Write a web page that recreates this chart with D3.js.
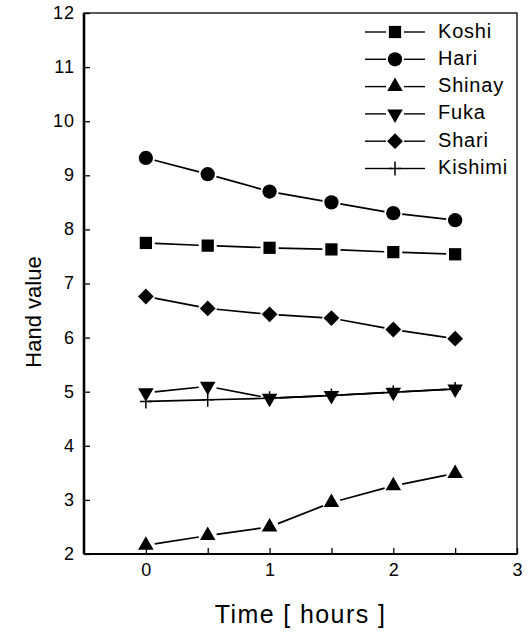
<!DOCTYPE html>
<html>
<head>
<meta charset="utf-8">
<script src="https://cdn.jsdelivr.net/npm/d3@7"></script>
<style>
  body { margin: 0; background: #fff; }
  svg { display: block; font-family: "Liberation Sans", Arial, sans-serif; }
</style>
</head>
<body>
<svg id="chart" width="528" height="632"></svg>
<script>
// data
var times = [0, 0.5, 1, 1.5, 2, 2.5];
var koshi   = [7.75, 7.70, 7.66, 7.63, 7.58, 7.54];
var hari    = [9.32, 9.02, 8.70, 8.50, 8.30, 8.17];
var shinay  = [2.16, 2.34, 2.50, 2.95, 3.26, 3.49];
var fuka    = [4.98, 5.10, 4.88, 4.93, 4.99, 5.05];
var shari   = [6.76, 6.54, 6.43, 6.36, 6.15, 5.98];
var kishimi = [4.82, 4.85, 4.88, 4.93, 4.99, 5.05];
var names = ["Koshi", "Hari", "Shinay", "Fuka", "Shari", "Kishimi"];
var yTicks = [2, 3, 4, 5, 6, 7, 8, 9, 10, 11, 12];
var xTicks = [0, 0.5, 1, 1.5, 2, 2.5, 3];

var series = [
  {name: names[0], vals: koshi,   shape: "square"},
  {name: names[1], vals: hari,    shape: "circle"},
  {name: names[2], vals: shinay,  shape: "up"},
  {name: names[3], vals: fuka,    shape: "down"},
  {name: names[4], vals: shari,   shape: "diamond"},
  {name: names[5], vals: kishimi, shape: "plus"}
];

var svg = d3.select("#chart");
var pLeft = 84, pRight = 517, pTop = 13, pBottom = 554;

var x = d3.scaleLinear().domain([-0.5, 3]).range([pLeft, pRight]);
var y = d3.scaleLinear().domain([2, 12]).range([pBottom, pTop]);

// axes, ticks pointing inward
svg.append("g")
  .attr("transform", "translate(" + pLeft + ",0)")
  .call(d3.axisLeft(y).tickValues(yTicks).tickSize(-6).tickPadding(9).tickFormat(d3.format("d")))
  .call(function(g) {
    g.select(".domain").remove();
    g.selectAll("line").attr("stroke-width", 1.3);
    g.selectAll("text").attr("font-size", 18).attr("letter-spacing", 1)
      .attr("dy", "0.3em").attr("fill", "#000");
  });

svg.append("g")
  .attr("transform", "translate(0," + pBottom + ")")
  .call(d3.axisBottom(x).tickValues(xTicks).tickSize(-6).tickPadding(9)
    .tickFormat(function(d) { return d % 1 === 0 ? d : ""; }))
  .call(function(g) {
    g.select(".domain").remove();
    g.selectAll("line").attr("stroke-width", 1.3);
    g.selectAll("text").attr("font-size", 18).attr("fill", "#000");
  });

// frame
svg.append("rect")
  .attr("x", pLeft).attr("y", pTop)
  .attr("width", pRight - pLeft).attr("height", pBottom - pTop)
  .attr("fill", "none").attr("stroke", "#000").attr("stroke-width", 1.3);
svg.append("line")
  .attr("x1", pLeft).attr("x2", pLeft).attr("y1", pTop).attr("y2", pBottom)
  .attr("stroke", "#000").attr("stroke-width", 2.6);
svg.append("line")
  .attr("x1", pLeft).attr("x2", pRight).attr("y1", pBottom).attr("y2", pBottom)
  .attr("stroke", "#000").attr("stroke-width", 1.8);

// axis titles
svg.append("text")
  .attr("x", (pLeft + pRight) / 2).attr("y", 623)
  .attr("text-anchor", "middle").attr("font-size", 25).attr("letter-spacing", 1.4)
  .text("Time [ hours ]");
svg.append("text")
  .attr("transform", "translate(41,312) rotate(-90)")
  .attr("text-anchor", "middle").attr("font-size", 22)
  .text("Hand value");

function marker(g, shape, cx, cy) {
  if (shape === "plus") {
    g.append("path")
      .attr("d", "M-6,0H6M0,-7V7")
      .attr("transform", "translate(" + cx + "," + cy + ")")
      .attr("stroke", "#000").attr("stroke-width", 1.5).attr("fill", "none");
    return;
  }
  var p;
  if (shape === "square") p = d3.symbol(d3.symbolSquare, 150)();
  else if (shape === "circle") p = d3.symbol(d3.symbolCircle, 160)();
  else if (shape === "diamond") p = d3.symbol(d3.symbolSquare, 125)();
  else p = d3.symbol(d3.symbolTriangle, 105)();
  var rot = shape === "down" ? 180 : shape === "diamond" ? 45 : 0;
  g.append("path")
    .attr("d", p)
    .attr("transform", "translate(" + cx + "," + cy + ") rotate(" + rot + ")")
    .attr("fill", "#000");
}

// line segments stop short of the markers
function gapLine(g, x1, y1, x2, y2, gap, w) {
  var dx = x2 - x1, dy = y2 - y1;
  var len = Math.sqrt(dx * dx + dy * dy);
  if (len <= 2 * gap) return;
  var ux = dx / len, uy = dy / len;
  g.append("line")
    .attr("x1", x1 + ux * gap).attr("y1", y1 + uy * gap)
    .attr("x2", x2 - ux * gap).attr("y2", y2 - uy * gap)
    .attr("stroke", "#000").attr("stroke-width", w);
}

var plot = svg.append("g");
series.forEach(function(s) {
  var g = plot.append("g");
  var gap = s.shape === "plus" ? 2 : 9;
  var pts = s.vals.map(function(v, i) { return [x(times[i]), y(v)]; });
  for (var i = 0; i < pts.length - 1; i++) {
    gapLine(g, pts[i][0], pts[i][1], pts[i + 1][0], pts[i + 1][1], gap, 1.7);
  }
  pts.forEach(function(p) { marker(g, s.shape, p[0], p[1]); });
});

// legend
var leg = svg.append("g");
series.forEach(function(s, i) {
  var cy = 32 + i * 27.3;
  var g = leg.append("g");
  var gap = s.shape === "plus" ? 3 : 9;
  g.append("line").attr("x1", 365).attr("x2", 395 - gap).attr("y1", cy).attr("y2", cy)
    .attr("stroke", "#000").attr("stroke-width", 1.4);
  g.append("line").attr("x1", 395 + gap).attr("x2", 425).attr("y1", cy).attr("y2", cy)
    .attr("stroke", "#000").attr("stroke-width", 1.4);
  marker(g, s.shape, 395, cy);
  g.append("text")
    .attr("x", 438).attr("y", cy + 5.5)
    .attr("font-size", 20).attr("letter-spacing", 0.8)
    .text(s.name);
});
</script>
</body>
</html>
